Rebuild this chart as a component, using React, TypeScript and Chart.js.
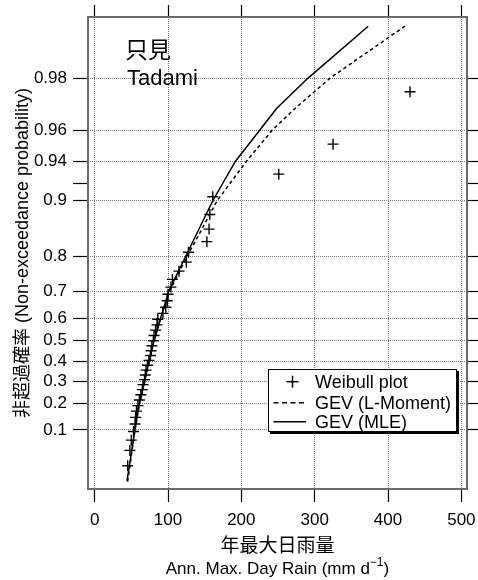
import React, { useEffect, useRef } from 'react';
import { Chart, registerables, LinearScale } from 'chart.js';

const FONT = '"Liberation Sans", "Noto Sans CJK JP", Arial, sans-serif';

// ---- data ----
const X_TICKS = [0, 100, 200, 300, 400, 500];
const PROB_TICKS = [0.1, 0.2, 0.3, 0.4, 0.5, 0.6, 0.7, 0.8, 0.9, 0.92, 0.94, 0.96, 0.98];
const UNLABELED_PROBS = [0.92];

const WEIBULL_RAIN = [45, 48, 50, 53, 55, 56, 57, 59, 61, 63, 65, 66, 68, 69, 70, 72, 74, 76, 77, 78, 80, 81, 83, 85, 86, 93, 97, 99, 100, 104, 106, 115, 125, 128, 153, 156, 157, 161, 251, 325, 430];
const WEIBULL_PROB = [0.024, 0.048, 0.071, 0.095, 0.119, 0.143, 0.167, 0.19, 0.214, 0.238, 0.262, 0.286, 0.31, 0.333, 0.357, 0.381, 0.405, 0.429, 0.452, 0.476, 0.5, 0.524, 0.548, 0.571, 0.595, 0.619, 0.643, 0.667, 0.69, 0.714, 0.738, 0.762, 0.786, 0.81, 0.833, 0.857, 0.881, 0.905, 0.929, 0.952, 0.976];

const CURVE_PROB = [0.01, 0.1, 0.2, 0.3, 0.4, 0.5, 0.6, 0.7, 0.8, 0.9, 0.94, 0.96, 0.97, 0.98, 0.99];
const GEV_LMOM_RAIN = [45, 55, 61, 68, 74, 81, 90, 102, 126, 167, 207, 242, 273, 321, 423];
const GEV_MLE_RAIN = [44, 55, 61, 68, 74, 81, 90, 101, 124, 161, 192, 225, 248, 291, 373];

const LABEL_WEIBULL = 'Weibull plot';
const LABEL_LMOM = 'GEV (L-Moment)';
const LABEL_MLE = 'GEV (MLE)';

const X_MIN = -9.1;
const X_MAX = 507.7;
const P_MIN = 0.00607;
const P_MAX = 0.99116;

// Gumbel reduced variate
const gumbel = (p: number) => -Math.log(-Math.log(p));

class GumbelScale extends LinearScale {
  static id = 'gumbel';
  static defaults = {};
  determineDataLimits() {
    const o: any = this.options;
    this.min = o.min;
    this.max = o.max;
  }
  buildTicks() {
    return PROB_TICKS.map((v) => ({ value: v }));
  }
  getPixelForValue(v: any) {
    if (v === null || v === undefined || isNaN(v)) return NaN;
    const a = gumbel(this.min);
    const b = gumbel(this.max);
    return this.getPixelForDecimal((gumbel(v) - a) / (b - a));
  }
  getValueForPixel(px: number) {
    const a = gumbel(this.min);
    const b = gumbel(this.max);
    const y = a + this.getDecimalForPixel(px) * (b - a);
    return Math.exp(-Math.exp(-y));
  }
}

Chart.register(...registerables, GumbelScale as any);

const framePlugin = {
  id: 'frame',
  afterDraw(chart: any) {
    const { ctx, chartArea: a } = chart;
    ctx.save();
    ctx.strokeStyle = '#6a6a6a';
    ctx.lineWidth = 2;
    ctx.strokeRect(a.left, a.top, a.right - a.left, a.bottom - a.top);
    ctx.restore();
  },
};

const GRID_GRAY = '#7a7a7a';
const tickFont = { family: FONT, size: 17 };

const fixSize = (key: 'width' | 'height', size: number) => (s: any) => {
  s[key] = size;
  s.paddingLeft = 0;
  s.paddingRight = 0;
  s.paddingTop = 0;
  s.paddingBottom = 0;
};

export default function App() {
  const ref = useRef<HTMLCanvasElement>(null);

  useEffect(() => {
    const canvas = ref.current;
    if (!canvas) return;
    const chart = new Chart(canvas, {
      type: 'scatter',
      data: {
        datasets: [
          {
            label: LABEL_WEIBULL,
            data: WEIBULL_RAIN.map((x, i) => ({ x, y: WEIBULL_PROB[i] })),
            pointStyle: 'cross',
            pointRadius: 5.5,
            borderColor: '#000',
            borderWidth: 1.4,
            showLine: false,
          },
          {
            label: LABEL_LMOM,
            data: GEV_LMOM_RAIN.map((x, i) => ({ x, y: CURVE_PROB[i] })),
            showLine: true,
            pointRadius: 0,
            borderColor: '#000',
            borderWidth: 1.5,
            borderDash: [3.5, 3],
          },
          {
            label: LABEL_MLE,
            data: GEV_MLE_RAIN.map((x, i) => ({ x, y: CURVE_PROB[i] })),
            showLine: true,
            pointRadius: 0,
            borderColor: '#000',
            borderWidth: 1.5,
          },
        ],
      },
      options: {
        animation: false,
        responsive: false,
        events: [],
        layout: { padding: 0 },
        plugins: { legend: { display: false }, tooltip: { enabled: false } },
        scales: {
          x: {
            type: 'linear',
            position: 'bottom',
            min: X_MIN,
            max: X_MAX,
            afterBuildTicks: (s: any) => {
              s.ticks = X_TICKS.map((v) => ({ value: v }));
            },
            afterFit: fixSize('height', 91),
            ticks: { font: tickFont, color: '#000', padding: 8, autoSkip: false, maxRotation: 0, callback: (v: any) => String(v) },
            grid: { color: GRID_GRAY, lineWidth: 1, drawTicks: true, tickLength: 13, tickColor: '#000', tickWidth: 1.2 },
            border: { display: false, dash: [1, 1] },
          },
          x2: {
            type: 'linear',
            axis: 'x',
            position: 'top',
            min: X_MIN,
            max: X_MAX,
            afterBuildTicks: (s: any) => {
              s.ticks = X_TICKS.map((v) => ({ value: v }));
            },
            afterFit: fixSize('height', 17),
            ticks: { display: false },
            grid: { drawOnChartArea: false, drawTicks: true, tickLength: 12, tickColor: '#000', tickWidth: 1.2 },
            border: { display: false },
          },
          y: {
            type: 'gumbel',
            position: 'left',
            min: P_MIN,
            max: P_MAX,
            afterFit: fixSize('width', 88),
            ticks: {
              font: tickFont,
              color: '#000',
              padding: 6,
              autoSkip: false,
              callback: (v: any) => (UNLABELED_PROBS.includes(v) ? '' : String(v)),
            },
            grid: {
              color: (c: any) => (c.tick && UNLABELED_PROBS.includes(c.tick.value) ? 'rgba(0,0,0,0)' : GRID_GRAY),
              lineWidth: 1,
              drawTicks: true,
              tickLength: 15,
              tickColor: '#000',
              tickWidth: 1.2,
            },
            border: { display: false, dash: [1, 1] },
          } as any,
          y2: {
            type: 'gumbel',
            axis: 'y',
            position: 'right',
            min: P_MIN,
            max: P_MAX,
            afterFit: fixSize('width', 11),
            ticks: { display: false },
            grid: { drawOnChartArea: false, drawTicks: true, tickLength: 11, tickColor: '#000', tickWidth: 1.2 },
            border: { display: false },
          } as any,
        },
      } as any,
      plugins: [framePlugin],
    });
    return () => chart.destroy();
  }, []);

  const abs = (s: any) => ({ position: 'absolute' as const, whiteSpace: 'nowrap' as const, ...s });

  return (
    <div style={{ position: 'fixed', left: 0, top: 0, width: 478, height: 580, background: '#fff', fontFamily: FONT, color: '#000', overflow: 'hidden' }}>
      <canvas ref={ref} width={478} height={580} style={{ position: 'absolute', left: 0, top: 0, width: 478, height: 580 }} />

      <div style={abs({ left: 125, top: 39, fontSize: 23, lineHeight: '23px' })}>只見</div>
      <div style={abs({ left: 127, top: 65, fontSize: 22, lineHeight: '25px' })}>Tadami</div>

      <div style={abs({ left: 277.5 - 150, top: 536, width: 300, textAlign: 'center', fontSize: 19, lineHeight: '19px' })}>年最大日雨量</div>
      <div style={abs({ left: 277.5 - 150, top: 559, width: 300, textAlign: 'center', fontSize: 17, lineHeight: '20px' })}>
        Ann. Max. Day Rain (mm d<span style={{ fontSize: 12, position: 'relative', top: -8 }}>−1</span>)
      </div>

      <div
        style={abs({
          left: 22 - 200,
          top: 253 - 11,
          width: 400,
          height: 22,
          lineHeight: '22px',
          textAlign: 'center',
          fontSize: 18,
          transform: 'rotate(-90deg)',
          transformOrigin: '50% 50%',
        })}
      >
        非超過確率 (Non-exceedance probability)
      </div>

      <div
        style={{
          position: 'absolute',
          left: 268,
          top: 369,
          width: 189,
          height: 63,
          boxSizing: 'border-box',
          border: '1px solid #000',
          boxShadow: '2px 2px 0 #000',
          background: '#fff',
        }}
      >
        <svg width={187} height={61} style={{ position: 'absolute', left: 0, top: 0 }}>
          <line x1={17.5} y1={11.7} x2={29.5} y2={11.7} stroke="#000" strokeWidth={1.5} />
          <line x1={23.5} y1={5.7} x2={23.5} y2={17.7} stroke="#000" strokeWidth={1.5} />
          <line x1={4.5} y1={32.7} x2={37} y2={32.7} stroke="#000" strokeWidth={1.5} strokeDasharray="5 3.5" />
          <line x1={4.5} y1={51.7} x2={37} y2={51.7} stroke="#000" strokeWidth={1.5} />
        </svg>
        <div style={abs({ left: 46, top: 1.8, fontSize: 18, lineHeight: '20px' })}>{LABEL_WEIBULL}</div>
        <div style={abs({ left: 46, top: 22.8, fontSize: 18, lineHeight: '20px' })}>{LABEL_LMOM}</div>
        <div style={abs({ left: 46, top: 41.8, fontSize: 18, lineHeight: '20px' })}>{LABEL_MLE}</div>
      </div>
    </div>
  );
}
